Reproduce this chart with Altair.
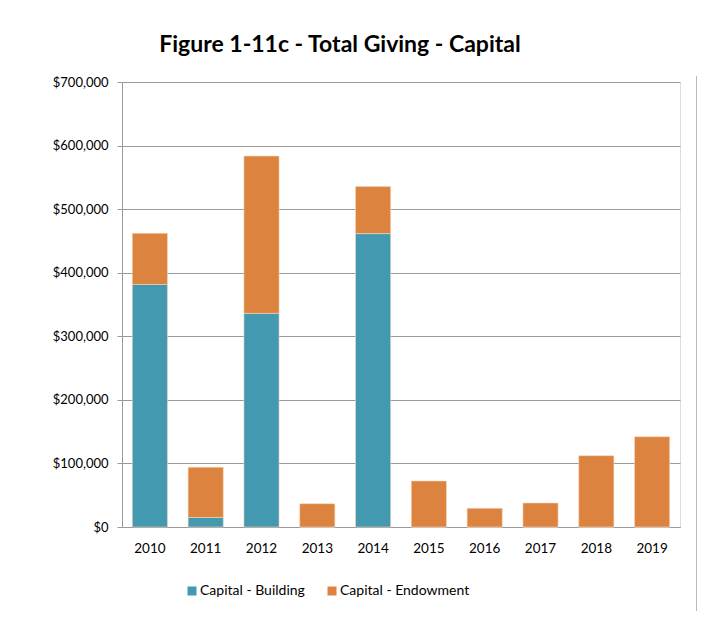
import altair as alt
import pandas as pd

years = ["2010", "2011", "2012", "2013", "2014", "2015", "2016", "2017", "2018", "2019"]
building = [381500, 15000, 336000, 0, 461500, 0, 0, 0, 0, 0]
endowment = [80500, 79000, 247500, 36700, 74000, 72400, 29400, 37800, 112200, 142000]
series = ["Capital - Building", "Capital - Endowment"]
colors = ["#4399B0", "#DC843F"]

rows = []
for i, y in enumerate(years):
    rows.append({"year": y, "series": series[0], "value": building[i], "order": 0})
    rows.append({"year": y, "series": series[1], "value": endowment[i], "order": 1})
df = pd.DataFrame(rows)

font = "Lato"

bars = alt.Chart(df).mark_bar(stroke="#f3d6c0", strokeWidth=0.6).encode(
    x=alt.X("year:N", sort=years, title=None,
            scale=alt.Scale(paddingInner=0.37, paddingOuter=0.185),
            axis=alt.Axis(labelAngle=0, ticks=False, domainColor="#9a9a9a",
                          labelFont=font, labelFontSize=13.5, labelColor="#000",
                          labelPadding=14, grid=False)),
    y=alt.Y("value:Q", stack="zero", title=None,
            scale=alt.Scale(domain=[0, 700000], nice=False),
            axis=alt.Axis(values=list(range(0, 700001, 100000)), format="$,.0f",
                          tickSize=5, tickColor="#9a9a9a", domainColor="#9a9a9a",
                          gridColor="#9a9a9a", gridWidth=1, labelFont=font,
                          labelFontSize=13, labelColor="#000", labelPadding=9)),
    color=alt.Color("series:N", scale=alt.Scale(domain=series, range=colors),
                    legend=alt.Legend(title=None, orient="none", legendX=63, legendY=502,
                                      direction="horizontal", symbolType="square",
                                      symbolSize=81, symbolStrokeWidth=0,
                                      labelFont=font, labelFontSize=14, labelColor="#000",
                                      columnPadding=20, labelOffset=1)),
    order=alt.Order("order:Q"),
)

border = alt.Chart(pd.DataFrame({"x": [0]})).mark_rule(color="#b8b8b8", strokeWidth=1).encode(
    x=alt.value(574.5), y=alt.value(-6), y2=alt.value(530)
)

chart = alt.layer(bars, border).properties(
    width=558, height=445,
    title=alt.TitleParams("Figure 1-11c - Total Giving - Capital", font=font, fontSize=23,
                          fontWeight="bold", color="#000", anchor="middle", dx=-61, offset=19),
    autosize=alt.AutoSizeParams(type="none"),
    padding={"left": 114, "top": 74, "right": 17, "bottom": 84},
).configure_view(stroke="transparent", strokeWidth=0).configure(background="white")

chart.save("out.html", embed_options={"renderer": "svg", "actions": False})
